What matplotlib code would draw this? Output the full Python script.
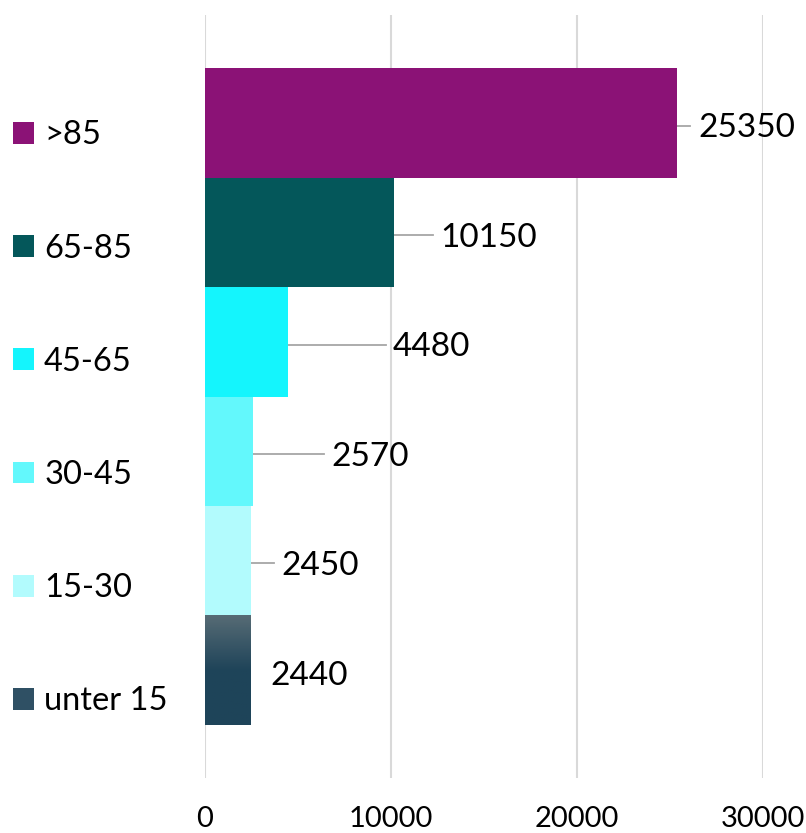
import numpy as np
import matplotlib.pyplot as plt
from matplotlib.patches import Patch
from matplotlib.colors import LinearSegmentedColormap

plt.rcParams['font.family'] = ['Lato', 'DejaVu Sans']

# data (bottom to top)
groups = ['unter 15', '15-30', '30-45', '45-65', '65-85', '>85']
values = [2440, 2450, 2570, 4480, 10150, 25350]
colors = ['#2A4D60', '#B2FBFD', '#63F8FC', '#14F5FD', '#04575A', '#8B1276']
# where each value label starts (x in data units)
label_x = [3500, 4090, 6780, 10110, 12640, 26500]
xticks = [0, 10000, 20000, 30000]

fig = plt.figure(figsize=(8.06, 8.33), dpi=100)
ax = fig.add_axes([205 / 806, 1 - 778 / 833, 558 / 806, 763 / 833])

y = np.arange(len(groups))
bars = ax.barh(y, values, height=1.0, color=colors, zorder=2)

# gradient fill for the "unter 15" bar
grad = LinearSegmentedColormap.from_list('g', ['#1E4459', '#1F4459', '#566B75'])
b0 = bars[0]
img = ax.imshow(np.linspace(0, 1, 100).reshape(-1, 1), cmap=grad, aspect='auto',
                origin='lower', extent=[0, values[0], -0.5, 0.5], zorder=3)
img.set_clip_path(b0)

ax.set_xlim(0, 30000)
ax.set_ylim(-0.985, 5.985)
ax.set_xticks(xticks)
ax.set_xticklabels([str(t) for t in xticks], fontsize=21)
ax.tick_params(axis='x', length=0, pad=20)
ax.set_yticks([])
ax.grid(axis='x', color='#D9D9D9', linewidth=1.5, zorder=0)
for s in ax.spines.values():
    s.set_visible(False)

# value labels with leader lines
for i, (v, lx) in enumerate(zip(values, label_x)):
    ax.text(lx, i - 0.05, str(v), fontsize=24, va='center', ha='left', zorder=4)
    if lx - v > 1100:
        ax.plot([v, lx - 400], [i - 0.025, i - 0.025], color='#A6A6A6',
                linewidth=1.3, zorder=1, clip_on=False)

# legend on the left
handles = [Patch(facecolor=c if g != 'unter 15' else '#2F5064', label=g)
           for g, c in zip(groups, colors)][::-1]
fig.legend(handles=handles, loc='upper left', bbox_to_anchor=(-0.004, 1 - 104 / 833),
           frameon=False, fontsize=23.5, handlelength=0.65, handleheight=0.65,
           handletextpad=0.3, labelspacing=2.55, borderpad=0)

fig.savefig('out.png', dpi=100)
